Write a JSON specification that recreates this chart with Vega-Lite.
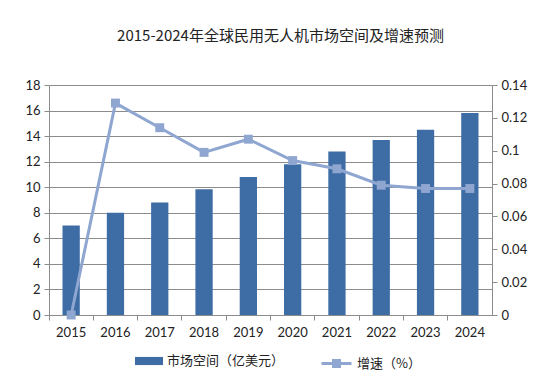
{
  "$schema": "https://vega.github.io/schema/vega-lite/v6.json",
  "width": 443,
  "height": 230,
  "autosize": {"type": "none"},
  "padding": {"left": 49, "top": 85, "right": 67, "bottom": 75},
  "background": "white",
  "title": {
    "text": "2015-2024年全球民用无人机市场空间及增速预测",
    "font": "Noto Sans CJK SC",
    "fontSize": 15,
    "fontWeight": "normal",
    "color": "#222222",
    "anchor": "middle",
    "frame": "group",
    "dx": 10,
    "offset": 35
  },
  "config": {
    "view": {"stroke": null},
    "axis": {
      "labelFont": "Lato",
      "labelFontSize": 13,
      "labelColor": "#222222",
      "domainColor": "#8c8c8c",
      "tickColor": "#8c8c8c",
      "gridColor": "#8c8c8c",
      "tickSize": 5
    }
  },
  "data": {
    "values": [
      {"year": "2015", "market": 7.0, "growth": 0.0},
      {"year": "2016", "market": 8.0, "growth": 0.129},
      {"year": "2017", "market": 8.8, "growth": 0.114},
      {"year": "2018", "market": 9.85, "growth": 0.099},
      {"year": "2019", "market": 10.8, "growth": 0.107},
      {"year": "2020", "market": 11.8, "growth": 0.094},
      {"year": "2021", "market": 12.8, "growth": 0.089},
      {"year": "2022", "market": 13.7, "growth": 0.079},
      {"year": "2023", "market": 14.5, "growth": 0.077},
      {"year": "2024", "market": 15.8, "growth": 0.077}
    ]
  },
  "encoding": {
    "x": {
      "field": "year",
      "type": "ordinal",
      "scale": {"paddingInner": 0, "paddingOuter": 0},
      "axis": {
        "title": null,
        "labelAngle": 0,
        "bandPosition": 0,
        "labelPadding": 6,
        "grid": false
      }
    }
  },
  "layer": [
    {
      "mark": {"type": "bar", "width": {"band": 0.39}, "color": "#3E6DA6"},
      "encoding": {
        "y": {
          "field": "market",
          "type": "quantitative",
          "scale": {"domain": [0, 18]},
          "axis": {
            "title": null,
            "values": [0, 2, 4, 6, 8, 10, 12, 14, 16, 18],
            "grid": true,
            "labelPadding": 4
          }
        },
        "fill": {
          "datum": "市场空间（亿美元）",
          "scale": {"range": ["#3E6DA6"]},
          "legend": {
            "title": null,
            "orient": "none",
            "legendX": 86,
            "legendY": 262,
            "symbolType": "M-1,-0.29H1V0.29H-1Z",
            "symbolSize": 784,
            "symbolStrokeWidth": 0,
            "labelFont": "Noto Sans CJK SC",
            "labelFontSize": 13,
            "labelColor": "#222222",
            "labelOffset": 4
          }
        }
      }
    },
    {
      "mark": {"type": "line", "color": "#8FA6D0", "strokeWidth": 3},
      "encoding": {
        "y": {
          "field": "growth",
          "type": "quantitative",
          "scale": {"domain": [0, 0.14]},
          "axis": {
            "title": null,
            "orient": "right",
            "values": [0, 0.02, 0.04, 0.06, 0.08, 0.1, 0.12, 0.14],
            "format": ".2~f",
            "grid": false,
            "labelPadding": 4
          }
        },
        "stroke": {
          "datum": "增速（%）",
          "scale": {"range": ["#8FA6D0"]},
          "legend": {
            "title": null,
            "orient": "none",
            "legendX": 271,
            "legendY": 262,
            "symbolType": "M-1,0H1M-0.2,-0.2H0.2V0.2H-0.2Z",
            "symbolSize": 900,
            "symbolStrokeWidth": 3,
            "symbolFillColor": "#8FA6D0",
            "labelFont": "Noto Sans CJK SC",
            "labelFontSize": 13,
            "labelColor": "#222222",
            "labelOffset": 4
          }
        }
      }
    },
    {
      "mark": {"type": "point", "shape": "square", "filled": true, "size": 80, "color": "#8FA6D0", "opacity": 1},
      "encoding": {
        "y": {"field": "growth", "type": "quantitative", "scale": {"domain": [0, 0.14]}, "axis": null}
      }
    }
  ],
  "resolve": {"scale": {"y": "independent"}}
}
